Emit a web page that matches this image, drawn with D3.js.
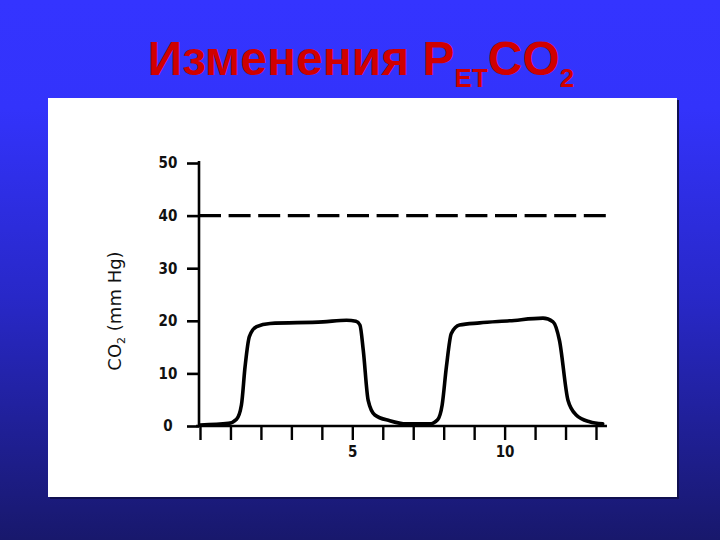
<!DOCTYPE html>
<html>
<head>
<meta charset="utf-8">
<script src="https://cdn.jsdelivr.net/npm/d3@7"></script>
<style>
  html, body { margin: 0; padding: 0; background: #1a1a70; }
  svg { display: block; }
</style>
</head>
<body>
<div id="chart"></div>
<script>
// capnogram trace (time in arbitrary units, CO2 in mm Hg)
const timePoints = [0, 0.93, 1.2, 1.36, 1.48, 1.62, 1.86, 2.3, 4.04, 4.81, 5.12, 5.25, 5.36, 5.52, 5.74, 6.23, 6.78, 7.54, 7.8, 7.95, 8.09, 8.25, 8.52, 9.18, 10.16, 11.26, 11.59, 11.8, 12.08, 12.35, 12.79, 13.22];
const co2Values  = [0.2, 0.5, 1.3, 4.0, 11.3, 17, 18.9, 19.5, 19.8, 20.1, 19.9, 19.2, 14.4, 4.9, 2.1, 1.0, 0.4, 0.4, 1.2, 4.0, 11.3, 17.6, 19.2, 19.6, 20.0, 20.5, 19.8, 16.3, 4.9, 2.1, 0.8, 0.4];
const xTicks = d3.range(0, 14);
const xTickLabels = { 5: '5', 10: '10' };
const yTicks = [0, 10, 20, 30, 40, 50];
const referenceLevel = 40;

const width = 720, height = 540;

const svg = d3.select('#chart').append('svg')
    .attr('width', width)
    .attr('height', height);

const defs = svg.append('defs');
const grad = defs.append('linearGradient')
    .attr('id', 'bg')
    .attr('x1', 0).attr('y1', 0).attr('x2', 0).attr('y2', 1);
grad.append('stop').attr('offset', '0').attr('stop-color', '#3434ff');
grad.append('stop').attr('offset', '0.2').attr('stop-color', '#3333fb');
grad.append('stop').attr('offset', '0.55').attr('stop-color', '#2828c8');
grad.append('stop').attr('offset', '1').attr('stop-color', '#18186c');

svg.append('rect')
    .attr('width', width).attr('height', height)
    .attr('fill', 'url(#bg)');

// title
const title = svg.append('text')
    .attr('x', 361)
    .attr('y', 75)
    .attr('text-anchor', 'middle')
    .attr('font-family', '"Liberation Sans", Arial, sans-serif')
    .attr('font-weight', 'bold')
    .attr('font-size', 48)
    .attr('fill', '#d00000');
title.append('tspan').text('Изменения P');
title.append('tspan').attr('font-size', 26).attr('dy', 12).text('ET');
title.append('tspan').attr('dy', -12).text('CO');
title.append('tspan').attr('font-size', 26).attr('dy', 12).text('2');

// white panel with a faint shadow
svg.append('rect')
    .attr('x', 50).attr('y', 100).attr('width', 629).attr('height', 399)
    .attr('fill', '#101050');
svg.append('rect')
    .attr('x', 48).attr('y', 98).attr('width', 629).attr('height', 399)
    .attr('fill', '#ffffff');

const x = d3.scaleLinear().domain([0, 13]).range([200, 596]);
const y = d3.scaleLinear().domain([0, 50]).range([426, 163]);

const chartFont = '"Liberation Sans Narrow", "DejaVu Sans Condensed", "Arial Narrow", sans-serif';

// dashed reference line at 40
svg.append('line')
    .attr('x1', x(0) - 1).attr('x2', x(13.36))
    .attr('y1', y(referenceLevel)).attr('y2', y(referenceLevel))
    .attr('stroke', '#000')
    .attr('stroke-width', 3.2)
    .attr('stroke-dasharray', '22 7.6');

// y axis
const yAxis = svg.append('g')
    .attr('transform', `translate(${x(0) - 1},0)`)
    .call(d3.axisLeft(y).tickValues(yTicks).tickSize(12).tickSizeOuter(0));
yAxis.select('.domain').remove();
yAxis.selectAll('.tick line').attr('stroke', '#000').attr('stroke-width', 2.6);
yAxis.selectAll('.tick text')
    .attr('x', -31)
    .attr('text-anchor', 'middle')
    .attr('font-family', chartFont)
    .attr('font-size', 15)
    .attr('font-weight', 600)
    .attr('fill', '#111');
yAxis.append('line')
    .attr('x1', 0).attr('x2', 0)
    .attr('y1', y(50) - 2).attr('y2', y(0) + 1)
    .attr('stroke', '#000').attr('stroke-width', 2.6);

// x axis
const xAxis = svg.append('g')
    .attr('transform', `translate(0,${y(0)})`)
    .call(d3.axisBottom(x).tickValues(xTicks).tickSize(14).tickSizeOuter(0)
        .tickFormat(d => xTickLabels[d] || ''));
xAxis.select('.domain').remove();
xAxis.selectAll('.tick line').attr('stroke', '#000').attr('stroke-width', 2.4);
xAxis.selectAll('.tick text')
    .attr('y', 20)
    .attr('font-family', chartFont)
    .attr('font-size', 15)
    .attr('font-weight', 600)
    .attr('fill', '#111');
xAxis.append('line')
    .attr('x1', x(-0.13)).attr('x2', x(13.36))
    .attr('y1', 0).attr('y2', 0)
    .attr('stroke', '#000').attr('stroke-width', 2.6);

// y axis label
const yLabel = svg.append('text')
    .attr('transform', `translate(121,311) rotate(-90)`)
    .attr('text-anchor', 'middle')
    .attr('font-family', '"DejaVu Sans", "Liberation Sans", sans-serif')
    .attr('font-size', 18)
    .attr('fill', '#111');
yLabel.append('tspan').text('CO');
yLabel.append('tspan').attr('font-size', 11).attr('dy', 4).text('2');
yLabel.append('tspan').attr('dy', -4).text(' (mm Hg)');

// the CO2 trace
const line = d3.line()
    .x((d, i) => x(timePoints[i]))
    .y(d => y(d))
    .curve(d3.curveMonotoneX);

svg.append('path')
    .datum(co2Values)
    .attr('d', line)
    .attr('fill', 'none')
    .attr('stroke', '#000')
    .attr('stroke-width', 3.6)
    .attr('stroke-linejoin', 'round')
    .attr('stroke-linecap', 'round');
</script>
</body>
</html>
